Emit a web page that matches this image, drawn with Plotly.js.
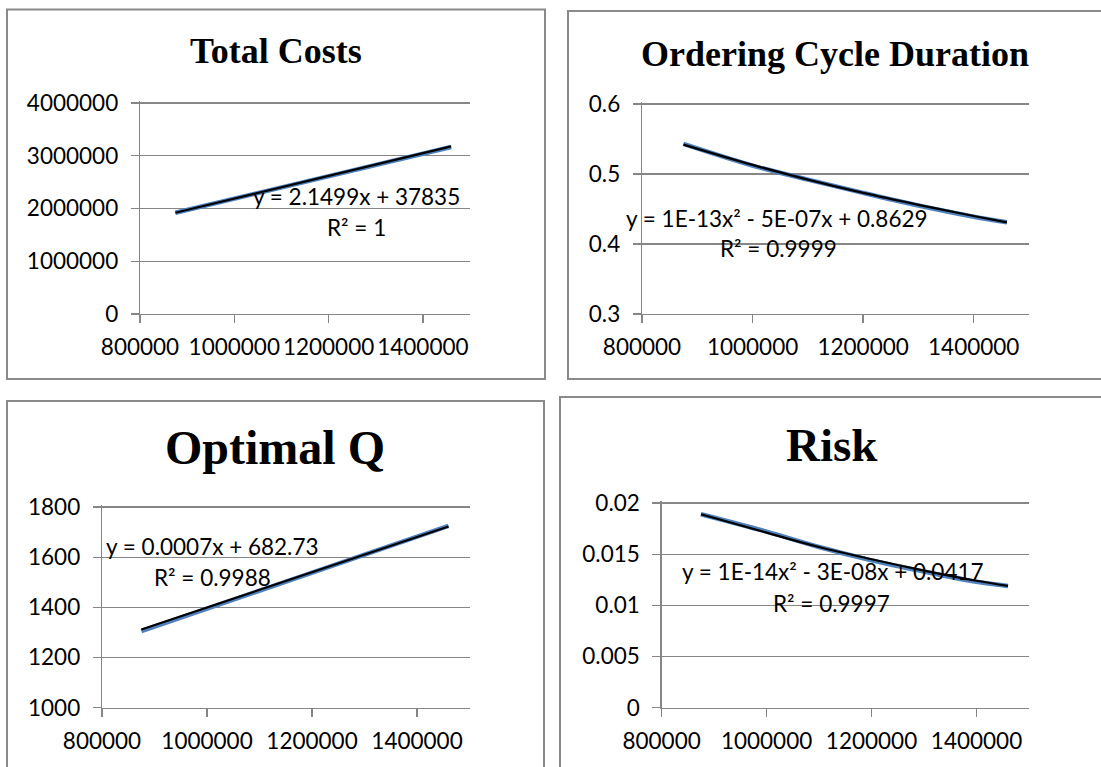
<!DOCTYPE html>
<html>
<head>
<meta charset="utf-8">
<script src="https://cdn.plot.ly/plotly-3.0.1.min.js"></script>
<style>
html,body{margin:0;padding:0;background:#fff;}
#chart{width:1101px;height:767px;}
</style>
</head>
<body>
<div id="chart"></div>
<script>
// ---- data ----
const demand = [875000, 1000000, 1100000, 1200000, 1300000, 1400000, 1460000];
const totalCosts = [1920000, 2186000, 2400000, 2612000, 2825000, 3038000, 3166000];
const cycleDuration = [0.543, 0.512, 0.492, 0.473, 0.455, 0.439, 0.431];
const optimalQ = [1305, 1395, 1467, 1539, 1610, 1682, 1725];
const risk = [0.0189, 0.0172, 0.0157, 0.0144, 0.0133, 0.0123, 0.0119];

const trendX = [875000, 1460000];
const totalTrend = [1919000, 3177000];
const qTrend = [1312, 1722];
const cycleTrend = [0.542, 0.513, 0.492, 0.473, 0.456, 0.440, 0.431];
const riskTrend = [0.0189, 0.0171, 0.0157, 0.0145, 0.0134, 0.0124, 0.0119];

const titles = ["Total Costs", "Ordering Cycle Duration", "Optimal Q", "Risk"];
const eqTexts = ["y = 2.1499x + 37835", "y = 1E-13x² - 5E-07x + 0.8629", "y = 0.0007x + 682.73", "y = 1E-14x² - 3E-08x + 0.0417"];
const r2Texts = ["R² = 1", "R² = 0.9999", "R² = 0.9988", "R² = 0.9997"];
const xTicks = [800000, 1000000, 1200000, 1400000];
const yTicks = [
  [0, 1000000, 2000000, 3000000, 4000000],
  [0.3, 0.4, 0.5, 0.6],
  [1000, 1200, 1400, 1600, 1800],
  [0, 0.005, 0.01, 0.015, 0.02]
];
const yTickText = [
  ["0", "1000000", "2000000", "3000000", "4000000"],
  ["0.3", "0.4", "0.5", "0.6"],
  ["1000", "1200", "1400", "1600", "1800"],
  ["0", "0.005", "0.01", "0.015", "0.02"]
];

// ---- layout helpers (pixel -> paper) ----
const W = 1101, H = 767;
const px = v => v / W;
const py = v => 1 - v / H;

const BLUE = '#4F81BD';
const GRID = '#868686';
const FONT = 'Lato, "Open Sans", sans-serif';
const SERIF = '"Liberation Serif", "Times New Roman", serif';

const traces = [];
function addPanel(i, yData, tX, tY, spline) {
  const xa = 'x' + (i === 0 ? '' : i + 1);
  const ya = 'y' + (i === 0 ? '' : i + 1);
  traces.push({x: demand, y: yData, xaxis: xa, yaxis: ya, mode: 'lines', type: 'scatter',
    line: {color: BLUE, width: 4.5, shape: spline ? 'spline' : 'linear'}, hoverinfo: 'skip', showlegend: false});
  traces.push({x: tX, y: tY, xaxis: xa, yaxis: ya, mode: 'lines', type: 'scatter',
    line: {color: '#000000', width: 2.2, shape: spline ? 'spline' : 'linear'}, hoverinfo: 'skip', showlegend: false});
}
addPanel(0, totalCosts, trendX, totalTrend, false);
addPanel(1, cycleDuration, demand, cycleTrend, true);
addPanel(2, optimalQ, trendX, qTrend, false);
addPanel(3, risk, demand, riskTrend, true);

// plot-area pixel boxes [left, right, top, bottom] (top = top gridline)
const boxes = [[140, 470, 103, 314], [642, 1029, 104, 314], [102, 469.5, 507, 707.7], [661.6, 1029, 503, 707.7]];
const EXTRA = 2; // px of headroom so the top gridline is not dropped at the range edge

const layout = {
  width: W, height: H,
  margin: {l: 0, r: 0, t: 0, b: 0},
  paper_bgcolor: '#fff', plot_bgcolor: 'rgba(0,0,0,0)',
  showlegend: false,
  shapes: [], annotations: []
};

boxes.forEach((b, i) => {
  const k = i === 0 ? '' : String(i + 1);
  const yt = yTicks[i];
  const lo = yt[0], hi = yt[yt.length - 1];
  const hpx = b[3] - b[2];
  const pad = (hi - lo) * EXTRA / hpx;
  layout['xaxis' + k] = {
    domain: [px(b[0]), px(b[1])], anchor: 'y' + k,
    range: [800000, 1500000], tickmode: 'array', tickvals: xTicks, ticktext: xTicks.map(String),
    showgrid: false, zeroline: false, showline: true, linecolor: GRID, linewidth: 1.3,
    ticks: 'outside', ticklen: 8, tickcolor: GRID, tickwidth: 1.3, ticklabelstandoff: 5,
    tickfont: {family: FONT, size: 22.5, color: '#000'}, fixedrange: true
  };
  layout['yaxis' + k] = {
    domain: [py(b[3]), py(b[2] - EXTRA)], anchor: 'x' + k,
    range: [lo, hi + pad], tickmode: 'array', tickvals: yt, ticktext: yTickText[i],
    showgrid: true, gridcolor: GRID, gridwidth: 1.3, zeroline: false,
    showline: true, linecolor: GRID, linewidth: 1.3,
    ticks: 'outside', ticklen: 8, tickcolor: GRID, tickwidth: 1.3, ticklabelstandoff: 8,
    tickfont: {family: FONT, size: 22.5, color: '#000'}, fixedrange: true
  };
});

// panel borders
const borders = [[7, 545, 9.5, 379], [568, 1110, 11, 379], [7, 544, 401, 780], [560, 1110, 397, 780]];
borders.forEach(r => layout.shapes.push({type: 'rect', xref: 'paper', yref: 'paper',
  x0: px(r[0]), x1: px(r[1]), y0: py(r[3]), y1: py(r[2]), line: {color: '#8a8a8a', width: 2}}));

// titles
const titlePos = [[276, 51, 36], [835, 54, 36], [275, 448, 48], [832, 445, 47]];
titlePos.forEach((t, i) => layout.annotations.push({text: '<b>' + titles[i] + '</b>', xref: 'paper', yref: 'paper',
  x: px(t[0]), y: py(t[1]), xanchor: 'center', yanchor: 'middle', showarrow: false,
  font: {family: SERIF, size: t[2], color: '#000'}}));

// trendline labels
const eqPos = [[356.5, 196.7], [777, 218], [212, 546.7], [832.5, 571.7]];
const r2Pos = [[356, 227.7], [778, 248], [212, 577.7], [832, 603.3]];
eqPos.forEach((p, i) => layout.annotations.push({text: eqTexts[i], xref: 'paper', yref: 'paper',
  x: px(p[0]), y: py(p[1]), xanchor: 'center', yanchor: 'middle', showarrow: false,
  font: {family: FONT, size: 22.5, color: '#000'}}));
r2Pos.forEach((p, i) => layout.annotations.push({text: r2Texts[i], xref: 'paper', yref: 'paper',
  x: px(p[0]), y: py(p[1]), xanchor: 'center', yanchor: 'middle', showarrow: false,
  font: {family: FONT, size: 22.5, color: '#000'}}));

Plotly.newPlot('chart', traces, layout, {staticPlot: true, displayModeBar: false});
</script>
</body>
</html>
